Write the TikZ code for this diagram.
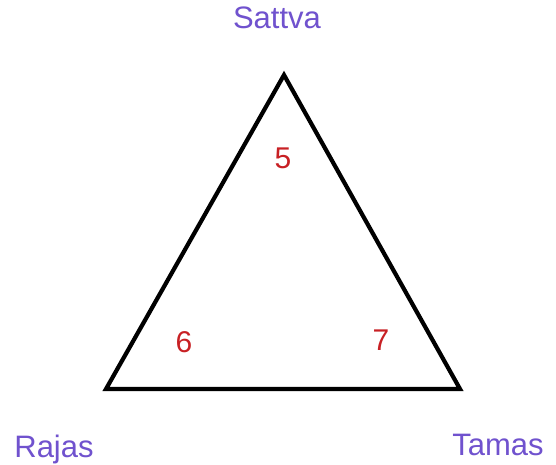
\documentclass[tikz,border=0pt]{standalone}
\usepackage{fontspec}
\setmainfont{Liberation Sans}
\definecolor{guna}{RGB}{112,82,206}
\definecolor{numred}{RGB}{200,32,36}
\begin{document}
\begin{tikzpicture}[x=1pt,y=-1pt,
  gunalabel/.style={text=guna,font=\fontsize{31}{33}\selectfont,anchor=base,inner sep=0pt},
  numlabel/.style={text=numred,font=\fontsize{30}{32}\selectfont,anchor=base,inner sep=0pt},
  edge/.style={line width=4.2pt,line join=miter}]
\useasboundingbox (0,0) rectangle (556,465);
\fill[white] (0,0) rectangle (556,465);
\coordinate (top) at (284,75);
\coordinate (bl) at (106,389);
\coordinate (br) at (460,389);
\draw[edge] (top) -- (bl) -- (br) -- cycle;
\node[gunalabel] (sattva) at (277,29) {Sattva};
\node[gunalabel] (rajas) at (54,457) {Rajas};
\node[gunalabel] (tamas) at (498,455) {Tamas};
\node[numlabel] (n5) at (283,168) {5};
\node[numlabel] (n6) at (184,352) {6};
\node[numlabel] (n7) at (381,350) {7};
\end{tikzpicture}
\end{document}
